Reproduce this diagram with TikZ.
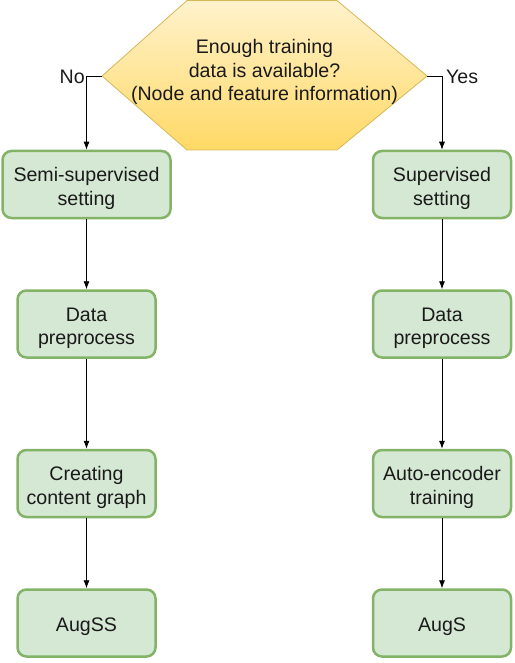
\documentclass[tikz,border=0pt]{standalone}
\usepackage{fontspec}
\setmainfont{Liberation Sans}
\usetikzlibrary{positioning, arrows.meta}

\definecolor{boxfill}{HTML}{D5E8D4}
\definecolor{boxline}{HTML}{82B366}
\definecolor{hextop}{HTML}{FFF2CC}
\definecolor{hexbot}{HTML}{FFD966}
\definecolor{hexline}{HTML}{D6B656}
\definecolor{ink}{HTML}{1A1A1A}

\newcommand{\topstrut}{\rule{0pt}{22pt}}

\begin{document}
\begin{tikzpicture}[x=1pt, y=-1pt,
    stepbox/.style={draw=boxline, fill=boxfill, line width=2.5pt, rounded corners=9pt,
        minimum width=138pt, minimum height=67pt, align=center, text=ink,
        font=\fontsize{19.6}{23.5}\selectfont},
    widebox/.style={stepbox, minimum width=168pt},
    flow/.style={-{Latex[length=8pt, width=6pt]}, line width=0.8pt},
    lbl/.style={text=ink, font=\fontsize{19.6}{23.5}\selectfont, inner sep=1pt}]
    \useasboundingbox (0,0) rectangle (514,663);

    % decision
    \shade [top color=hextop, bottom color=hexbot, draw=hexline, line width=0.8pt]
        (187,0.5) -- (337,0.5) -- (427,76) -- (337,150) -- (187,150) -- (102,76) -- cycle;
    \node (q) at (264.5,72) [lbl, align=center] {Enough training\\data is available?\\(Node and feature information)};
    \coordinate (qL) at (102,76);
    \coordinate (qR) at (427,76);

    % left branch
    \node (semi) at (86.5,184.5) [widebox] {\topstrut Semi-supervised\\setting};
    \node (prepL) [stepbox, below=70pt of semi] {\topstrut Data\\preprocess};
    \node (graph) [stepbox, below=90pt of prepL] {\topstrut Creating\\content graph};
    \node (augss) [stepbox, below=70pt of graph] {\topstrut AugSS};

    % right branch
    \node (sup) at (442,184.5) [stepbox] {\topstrut Supervised\\setting};
    \node (prepR) [stepbox, below=70pt of sup] {\topstrut Data\\preprocess};
    \node (ae) [stepbox, below=90pt of prepR] {\topstrut Auto-encoder\\training};
    \node (augs) [stepbox, below=70pt of ae] {\topstrut AugS};

    \draw [flow] (qL) -| (semi.north);
    \draw [flow] (qR) -| (sup.north);
    \node [lbl, anchor=east] at (86,77) {No};
    \node [lbl, anchor=west] at (445,77) {Yes};

    \draw [flow] (semi) -- (prepL);
    \draw [flow] (prepL) -- (graph);
    \draw [flow] (graph) -- (augss);
    \draw [flow] (sup) -- (prepR);
    \draw [flow] (prepR) -- (ae);
    \draw [flow] (ae) -- (augs);
\end{tikzpicture}
\end{document}
